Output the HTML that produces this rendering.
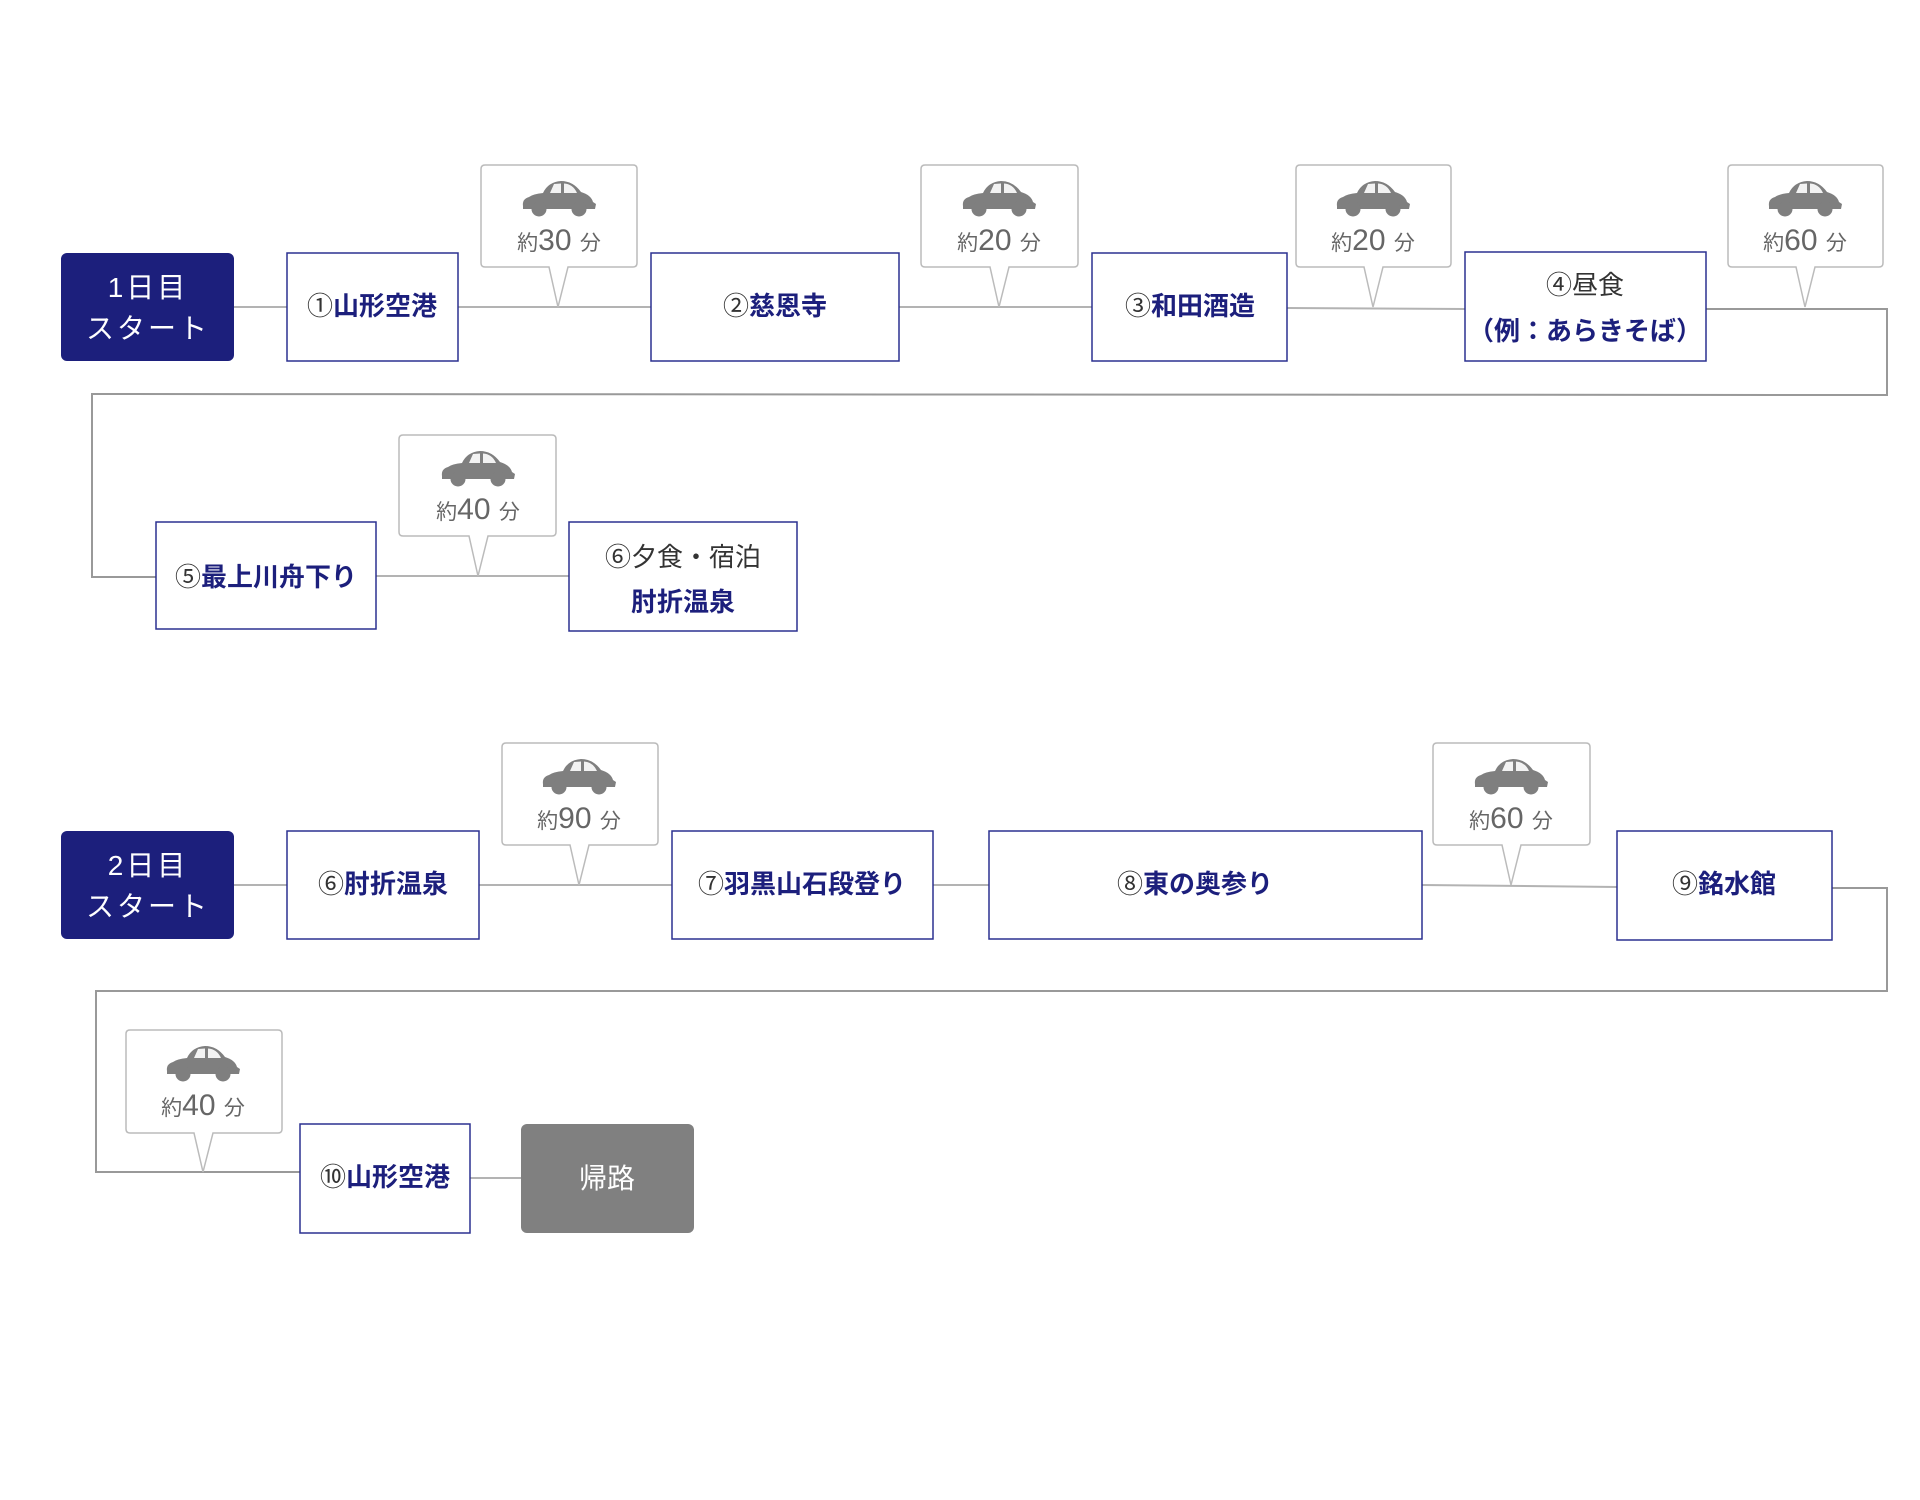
<!DOCTYPE html>
<html><head><meta charset="utf-8"><style>
html,body{margin:0;padding:0;background:#fff;}
svg{display:block;}
.bt{font-family:"Liberation Sans","Noto Sans CJK JP",sans-serif;font-weight:bold;fill:#1c1f7c;font-size:26px;}
.num{font-family:"Liberation Sans","Noto Sans CJK JP",sans-serif;font-weight:normal;fill:#333;}
.gt{font-family:"Liberation Sans","Noto Sans CJK JP",sans-serif;fill:#333;font-size:26px;}
.st{font-family:"Liberation Sans","Noto Sans CJK JP",sans-serif;fill:#fff;font-size:28px;letter-spacing:3px;}
.bb{font-family:"Liberation Sans","Noto Sans CJK JP",sans-serif;fill:#666;}
</style></head><body>
<svg width="1920" height="1500" viewBox="0 0 1920 1500" xmlns="http://www.w3.org/2000/svg">
<defs>
<g id="car">
<path d="M-36,6 Q-37,-1 -30,-3 Q-26,-6 -16,-7 Q-11,-18 2,-19 Q14,-19 22,-8 Q32,-5 34,2 L37,4 L36,9 L-36,9 Z" fill="#7f7f7f"/>
<circle cx="-20" cy="9" r="7.5" fill="#7f7f7f"/>
<circle cx="20" cy="9" r="7.5" fill="#7f7f7f"/>
<path d="M-9,-7 L-5,-16 L2,-16.5 L2,-7 Z M5,-7 L5,-16.5 Q14,-16 18,-7 Z" fill="#fff" opacity="0.9"/>
</g>
</defs>
<g fill="none" stroke="#b3b3b3" stroke-width="2">
<!-- row1 -->
<line x1="234" y1="307" x2="287" y2="307"/>
<line x1="458" y1="307" x2="651" y2="307"/>
<line x1="899" y1="307" x2="1092" y2="307"/>
<line x1="1287" y1="308" x2="1465" y2="309"/>
<polyline points="1706,309 1887,309 1887,395 92,394 92,577 156,577" stroke="#999"/>
<line x1="376" y1="576" x2="569" y2="576"/>
<!-- row2 -->
<line x1="234" y1="885" x2="287" y2="885"/>
<line x1="479" y1="885" x2="672" y2="885"/>
<line x1="933" y1="885" x2="989" y2="885"/>
<line x1="1422" y1="885" x2="1617" y2="887"/>
<polyline points="1832,888 1887,888 1887,991 96,991 96,1172 300,1172" stroke="#999"/>
<line x1="470" y1="1178" x2="521" y2="1178"/>
</g>
<!-- bubbles -->
<g fill="#fff" stroke="#bbb" stroke-width="1.5">
<path d="M485,165 H633 Q637,165 637,169 V263 Q637,267 633,267 H568 L558,307 L549,267 H485 Q481,267 481,263 V169 Q481,165 485,165 Z"/>
<path d="M925,165 H1074 Q1078,165 1078,169 V263 Q1078,267 1074,267 H1009 L999,307 L990,267 H925 Q921,267 921,263 V169 Q921,165 925,165 Z"/>
<path d="M1300,165 H1447 Q1451,165 1451,169 V263 Q1451,267 1447,267 H1383 L1373,307 L1364,267 H1300 Q1296,267 1296,263 V169 Q1296,165 1300,165 Z"/>
<path d="M1732,165 H1879 Q1883,165 1883,169 V263 Q1883,267 1879,267 H1815 L1805,307 L1796,267 H1732 Q1728,267 1728,263 V169 Q1728,165 1732,165 Z"/>
<path d="M403,435 H552 Q556,435 556,439 V532 Q556,536 552,536 H488 L478,576 L469,536 H403 Q399,536 399,532 V439 Q399,435 403,435 Z"/>
<path d="M506,743 H654 Q658,743 658,747 V841 Q658,845 654,845 H589 L579,885 L570,845 H506 Q502,845 502,841 V747 Q502,743 506,743 Z"/>
<path d="M1437,743 H1586 Q1590,743 1590,747 V841 Q1590,845 1586,845 H1521 L1511,885 L1502,845 H1437 Q1433,845 1433,841 V747 Q1433,743 1437,743 Z"/>
<path d="M130,1030 H278 Q282,1030 282,1034 V1129 Q282,1133 278,1133 H213 L203,1172 L194,1133 H130 Q126,1133 126,1129 V1034 Q126,1030 130,1030 Z"/>
</g>
<use href="#car" x="559" y="200"/>
<use href="#car" x="999" y="200"/>
<use href="#car" x="1373" y="200"/>
<use href="#car" x="1805" y="200"/>
<use href="#car" x="478" y="470"/>
<use href="#car" x="579" y="778"/>
<use href="#car" x="1511" y="778"/>
<use href="#car" x="203" y="1065"/>
<g class="bb" text-anchor="middle">
<text x="559" y="250"><tspan font-size="21">約</tspan><tspan font-size="30">30 </tspan><tspan font-size="21">分</tspan></text>
<text x="999" y="250"><tspan font-size="21">約</tspan><tspan font-size="30">20 </tspan><tspan font-size="21">分</tspan></text>
<text x="1373" y="250"><tspan font-size="21">約</tspan><tspan font-size="30">20 </tspan><tspan font-size="21">分</tspan></text>
<text x="1805" y="250"><tspan font-size="21">約</tspan><tspan font-size="30">60 </tspan><tspan font-size="21">分</tspan></text>
<text x="478" y="519"><tspan font-size="21">約</tspan><tspan font-size="30">40 </tspan><tspan font-size="21">分</tspan></text>
<text x="579" y="828"><tspan font-size="21">約</tspan><tspan font-size="30">90 </tspan><tspan font-size="21">分</tspan></text>
<text x="1511" y="828"><tspan font-size="21">約</tspan><tspan font-size="30">60 </tspan><tspan font-size="21">分</tspan></text>
<text x="203" y="1115"><tspan font-size="21">約</tspan><tspan font-size="30">40 </tspan><tspan font-size="21">分</tspan></text>
</g>
<!-- start boxes -->
<rect x="61" y="253" width="173" height="108" rx="6" fill="#1c1f7c"/>
<rect x="61" y="831" width="173" height="108" rx="6" fill="#1c1f7c"/>
<g class="st" text-anchor="middle">
<text x="148" y="297">1日目</text>
<text x="148" y="338">スタート</text>
<text x="148" y="875">2日目</text>
<text x="148" y="916">スタート</text>
</g>
<rect x="521" y="1124" width="173" height="109" rx="6" fill="#808080"/>
<text x="607" y="1188" text-anchor="middle" font-family="Liberation Sans, Noto Sans CJK JP, sans-serif" font-size="28" fill="#fff">帰路</text>
<!-- boxes -->
<g fill="#fff" stroke="#2b3090" stroke-width="1.5">
<rect x="287" y="253" width="171" height="108"/>
<rect x="651" y="253" width="248" height="108"/>
<rect x="1092" y="253" width="195" height="108"/>
<rect x="1465" y="252" width="241" height="109"/>
<rect x="156" y="522" width="220" height="107"/>
<rect x="569" y="522" width="228" height="109"/>
<rect x="287" y="831" width="192" height="108"/>
<rect x="672" y="831" width="261" height="108"/>
<rect x="989" y="831" width="433" height="108"/>
<rect x="1617" y="831" width="215" height="109"/>
<rect x="300" y="1124" width="170" height="109"/>
</g>
<g class="bt" text-anchor="middle">
<text x="372" y="315"><tspan class="num">①</tspan>山形空港</text>
<text x="775" y="315"><tspan class="num">②</tspan>慈恩寺</text>
<text x="1190" y="315"><tspan class="num">③</tspan>和田酒造</text>
<text x="1585" y="294" class="gt" style="font-weight:normal">④昼食</text>
<text x="1585" y="340">（例：あらきそば）</text>
<text x="266" y="586"><tspan class="num">⑤</tspan>最上川舟下り</text>
<text x="683" y="566" class="gt" style="font-weight:normal">⑥夕食・宿泊</text>
<text x="683" y="611">肘折温泉</text>
<text x="383" y="893"><tspan class="num">⑥</tspan>肘折温泉</text>
<text x="802" y="893"><tspan class="num">⑦</tspan>羽黒山石段登り</text>
<text x="1195" y="893"><tspan class="num">⑧</tspan>東の奥参り</text>
<text x="1724" y="893"><tspan class="num">⑨</tspan>銘水館</text>
<text x="385" y="1186"><tspan class="num">⑩</tspan>山形空港</text>
</g>
</svg>
</body></html>
